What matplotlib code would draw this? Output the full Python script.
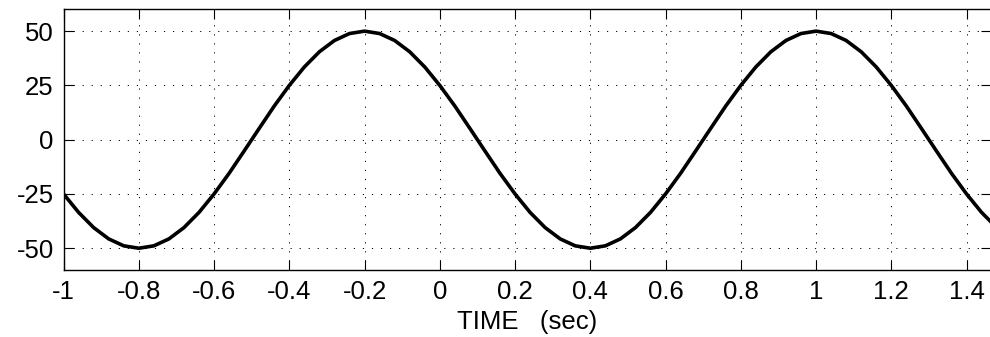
import matplotlib
matplotlib.use("Agg")
import matplotlib.pyplot as plt

# time samples (sec), step 0.04 from -1
time = [-1.00, -0.96, -0.92, -0.88, -0.84, -0.80, -0.76, -0.72, -0.68, -0.64,
        -0.60, -0.56, -0.52, -0.48, -0.44, -0.40, -0.36, -0.32, -0.28, -0.24,
        -0.20, -0.16, -0.12, -0.08, -0.04, 0.00, 0.04, 0.08, 0.12, 0.16,
        0.20, 0.24, 0.28, 0.32, 0.36, 0.40, 0.44, 0.48, 0.52, 0.56,
        0.60, 0.64, 0.68, 0.72, 0.76, 0.80, 0.84, 0.88, 0.92, 0.96,
        1.00, 1.04, 1.08, 1.12, 1.16, 1.20, 1.24, 1.28, 1.32, 1.36,
        1.40, 1.44, 1.48]
signal = [-25.0, -33.5, -40.5, -45.7, -48.9, -50.0, -48.9, -45.7, -40.5, -33.5,
          -25.0, -15.5, -5.2, 5.2, 15.5, 25.0, 33.5, 40.5, 45.7, 48.9,
          50.0, 48.9, 45.7, 40.5, 33.5, 25.0, 15.5, 5.2, -5.2, -15.5,
          -25.0, -33.5, -40.5, -45.7, -48.9, -50.0, -48.9, -45.7, -40.5, -33.5,
          -25.0, -15.5, -5.2, 5.2, 15.5, 25.0, 33.5, 40.5, 45.7, 48.9,
          50.0, 48.9, 45.7, 40.5, 33.5, 25.0, 15.5, 5.2, -5.2, -15.5,
          -25.0, -33.5, -40.5]

xticks = [-1, -0.8, -0.6, -0.4, -0.2, 0, 0.2, 0.4, 0.6, 0.8, 1, 1.2, 1.4]
xtick_labels = ["-1", "-0.8", "-0.6", "-0.4", "-0.2", "0", "0.2", "0.4",
                "0.6", "0.8", "1", "1.2", "1.4"]
yticks = [-50, -25, 0, 25, 50]
ytick_labels = ["-50", "-25", "0", "25", "50"]
xlabel = "TIME   (sec)"

plt.rcParams['font.family'] = ['Liberation Sans', 'DejaVu Sans']

fig = plt.figure(figsize=(9.9, 3.37), dpi=100)
ax = fig.add_axes([0.0642, 0.199, 1.001 - 0.0642, 0.972 - 0.199])

ax.plot(time, signal, color='black', lw=2.6, solid_joinstyle='round')

ax.set_xlim(-1, 1.465)
ax.set_ylim(-60, 60)
ax.set_xticks(xticks)
ax.set_xticklabels(xtick_labels)
ax.set_yticks(yticks)
ax.set_yticklabels(ytick_labels)

ax.tick_params(direction='in', length=7, width=0.8, top=True, right=True,
               labelsize=18.5, colors='black')
ax.tick_params(axis='y', pad=7)
ax.tick_params(axis='x', pad=7)
for s in ax.spines.values():
    s.set_linewidth(1.0)
    s.set_color('black')

ax.grid(True, color='black', linestyle=(0, (1.2, 8.1)), linewidth=0.7)

lab = ax.set_xlabel(xlabel, fontsize=18.5)
lab.set_verticalalignment('baseline')
ax.xaxis.set_label_coords(0.5003, -0.2263)

fig.savefig("out.png", dpi=100)
